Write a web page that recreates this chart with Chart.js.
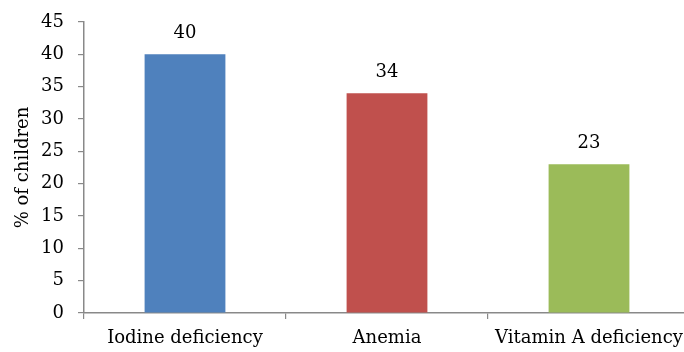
<!DOCTYPE html>
<html>
<head>
<meta charset="utf-8">
<script src="https://cdn.jsdelivr.net/npm/chart.js@4.4.1/dist/chart.umd.min.js"></script>
<style>
html,body{margin:0;padding:0;background:#fff;overflow:hidden;}
#wrap{width:690px;height:352px;position:relative;}
</style>
</head>
<body>
<div id="wrap"><canvas id="c" width="690" height="352"></canvas></div>
<script>
const categories = ["Iodine deficiency", "Anemia", "Vitamin A deficiency"];
const values = [40, 34, 23];
const barColors = ["#4F81BD", "#C0504D", "#9BBB59"];
const yTicks = [0, 5, 10, 15, 20, 25, 30, 35, 40, 45];
const yTitle = "% of children";

const FONT = "'DejaVu Serif', 'Liberation Serif', serif";
const axisColor = "#898989";

const labelPlugin = {
  id: 'valueLabels',
  afterDatasetsDraw(chart) {
    const ctx = chart.ctx;
    const meta = chart.getDatasetMeta(0);
    ctx.save();
    ctx.font = "18px " + FONT;
    ctx.fillStyle = "#000";
    ctx.textAlign = "center";
    ctx.textBaseline = "alphabetic";
    meta.data.forEach((bar, i) => {
      ctx.fillText(String(values[i]), bar.x, bar.y - 16);
    });
    ctx.restore();
  }
};

new Chart(document.getElementById('c'), {
  type: 'bar',
  data: {
    labels: categories,
    datasets: [{
      data: values,
      backgroundColor: barColors,
      borderWidth: 0,
      categoryPercentage: 1,
      barPercentage: 0.4
    }]
  },
  options: {
    responsive: false,
    animation: false,
    layout: { padding: { top: 22, right: 0, left: 0, bottom: 0 } },
    plugins: { legend: { display: false }, tooltip: { enabled: false } },
    scales: {
      x: {
        afterFit: s => { s.height = 39; s.paddingLeft = 0; s.paddingRight = 0; },
        grid: { display: true, offset: true, drawOnChartArea: false, tickLength: 6, color: axisColor, lineWidth: 1.2 },
        border: { display: true, color: axisColor, width: 1.5 },
        ticks: { color: "#000", font: { family: FONT, size: 18 }, padding: 9, maxRotation: 0 }
      },
      y: {
        min: 0, max: 45,
        afterFit: s => { s.width = 84; s.paddingTop = 0; s.paddingBottom = 0; },
        afterBuildTicks: s => { s.ticks = yTicks.map(v => ({ value: v })); },
        grid: { display: true, drawOnChartArea: false, tickLength: 6, color: axisColor, lineWidth: 1.2 },
        border: { display: true, color: axisColor, width: 1.5 },
        ticks: { color: "#000", font: { family: FONT, size: 18 }, padding: 14 },
        title: { display: true, text: yTitle, color: "#000", font: { family: FONT, size: 18 }, padding: { top: 13, bottom: 0 } }
      }
    }
  },
  plugins: [labelPlugin]
});
</script>
</body>
</html>
